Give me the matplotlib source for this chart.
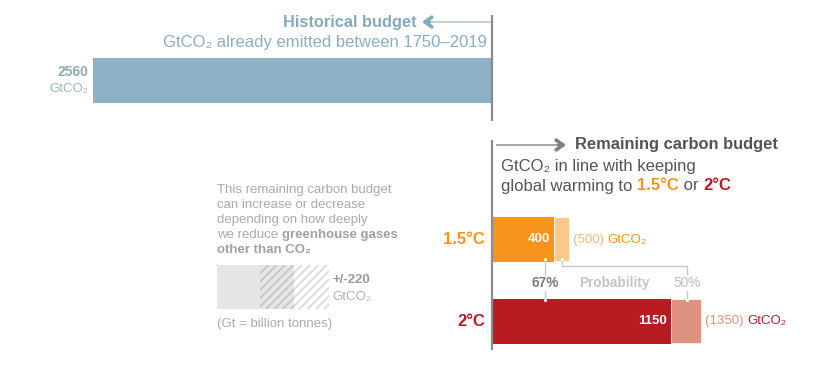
import numpy as np
import matplotlib
matplotlib.use("Agg")
from matplotlib import pyplot as plt

plt.rcParams['font.family'] = ['Liberation Sans', 'DejaVu Sans']
plt.rcParams['hatch.linewidth'] = 1.2

# values in GtCO2
historical = 2560
budget_67 = [400, 1150]      # 67% probability, 1.5°C and 2°C
budget_50 = [500, 1350]      # 50% probability
labels = ['1.5°C', '2°C']
nonco2_range = 220
base_col = ['#F7941D', '#B81C22']
light_col = ['#FDC88C', '#DC9480']
text_light = ['#F9B577', '#E0907C']

W, H = 830, 365
scale = 399 / historical          # px per GtCO2
x0 = 492                         # zero line in pixels


def px(x):
    return (x - x0) / scale


fig = plt.figure(figsize=(W / 100, H / 100), dpi=100)
ax = fig.add_axes([0, 0, 1, 1])
ax.set_xlim(px(0), px(W))
ax.set_ylim(H, 0)
ax.axis('off')

blue = '#8DB1C5'
blue_txt = '#8AADC2'
grey_txt = '#AAAAAA'

# historical bar (to the left of zero)
ax.barh(80.5, -historical, height=45, color=blue)
ax.text(px(88), 72, str(historical), ha='right', va='center', fontsize=10,
        fontweight='bold', color='#8FA9BA')
ax.text(px(88), 89, 'GtCO₂', ha='right', va='center', fontsize=9.5, color='#9DB6C6')

ax.text(px(416), 22, 'Historical budget', ha='right', va='center', fontsize=11.8,
        fontweight='bold', color='#86A9BE')
ax.text(px(487), 43, 'GtCO₂ already emitted between 1750–2019', ha='right',
        va='center', fontsize=12, color=blue_txt)
ax.plot([px(428), px(490)], [22, 22], color='#B7CDD9', lw=1.3)
ax.annotate('', xy=(px(419), 22), xytext=(px(432), 22),
            arrowprops=dict(arrowstyle='->, head_length=0.5, head_width=0.35',
                            color='#86A9BE', lw=2.6))

# zero lines
ax.plot([0, 0], [15, 121], color='#8C8C8C', lw=1.6, solid_capstyle='butt')
ax.plot([0, 0], [140, 350], color='#8C8C8C', lw=1.6, solid_capstyle='butt')

# remaining budget header
ax.plot([px(497), px(560)], [145, 145], color='#A0A0A0', lw=1.3)
ax.annotate('', xy=(px(569), 145), xytext=(px(556), 145),
            arrowprops=dict(arrowstyle='->, head_length=0.5, head_width=0.35',
                            color='#7F7F7F', lw=2.6))
ax.text(px(575), 145, 'Remaining carbon budget', ha='left', va='center',
        fontsize=11.9, fontweight='bold', color='#555555')
ax.text(px(501), 166, 'GtCO₂ in line with keeping', ha='left', va='center',
        fontsize=12, color='#555555')
t = ax.text(px(501), 186, 'global warming to ', ha='left', va='center',
            fontsize=12, color='#555555')
t = ax.annotate('1.5°C', xy=(1, 0), xycoords=t, va='bottom', ha='left',
                fontsize=12, fontweight='bold', color=base_col[0])
t = ax.annotate(' or ', xy=(1, 0), xycoords=t, va='bottom', ha='left',
                fontsize=12, color='#555555')
ax.annotate('2°C', xy=(1, 0), xycoords=t, va='bottom', ha='left',
            fontsize=12, fontweight='bold', color=base_col[1])

# remaining budget bars
ys = [239.5, 321]
for i in range(2):
    ax.barh(ys[i], budget_50[i] - budget_67[i], left=budget_67[i], height=45,
            color=light_col[i], edgecolor='white', linewidth=1.2)
    ax.barh(ys[i], budget_67[i], height=45, color=base_col[i])
    ax.text(budget_67[i] - 4 / scale, ys[i], str(budget_67[i]),
            ha='right', va='center', fontsize=9.5, fontweight='bold', color='white')
    ax.text(px(485), ys[i], labels[i], ha='right', va='center', fontsize=12,
            fontweight='bold', color=base_col[i])
    t = ax.text(budget_50[i] + 3 / scale, ys[i], '(%d) ' % budget_50[i],
                ha='left', va='center', fontsize=9.5, color=text_light[i])
    ax.annotate('GtCO₂', xy=(1, 0), xycoords=t, va='bottom', ha='left',
                fontsize=9.5, color=base_col[i])

# probability connectors
line_c = '#C8C8C8'
p67 = 340
p50 = [(budget_67[0] + budget_50[0]) / 2, (budget_67[1] + budget_50[1]) / 2]
ax.plot([p67, p67], [259, 275], color=line_c, lw=1)
ax.plot([p67, p67], [291, 299], color=line_c, lw=1)
ax.plot([p50[0], p50[0], p50[1], p50[1]], [259, 265.5, 265.5, 274],
        color=line_c, lw=1)
ax.plot([p50[1], p50[1]], [291, 299], color=line_c, lw=1)
ax.scatter([p67, p50[0], p67, p50[1]], [259, 259, 300, 300], s=5,
           color='white', zorder=5, lw=0)
ax.text(p67, 283, '67%', ha='center', va='center', fontsize=9.8,
        fontweight='bold', color='#7A7A7A')
ax.text(px(614), 283, 'Probability', ha='center', va='center', fontsize=9.8,
        fontweight='bold', color='#C4C4C4')
ax.text(p50[1], 283, '50%', ha='center', va='center', fontsize=9.8,
        color='#BDBDBD')

# note on non-CO2 gases
note_y = [190, 205, 220, 235]
note_lines = ['This remaining carbon budget', 'can increase or decrease',
              'depending on how deeply', 'we reduce ']
for y, s in zip(note_y, note_lines):
    tt = ax.text(px(217), y, s, ha='left', va='center', fontsize=9.5, color=grey_txt)
ax.annotate('greenhouse gases', xy=(1, 0), xycoords=tt, va='bottom', ha='left',
            fontsize=9.5, fontweight='bold', color='#A0A0A0')
ax.text(px(217), 250, 'other than CO₂', ha='left', va='center', fontsize=9.5,
        fontweight='bold', color='#A0A0A0')

box_left = px(217)
base_w = px(260) - px(217)
ax.barh(287, base_w, left=box_left, height=44, color='#E6E6E6', lw=0)
ax.barh(287, nonco2_range, left=box_left + base_w, height=44, color='#E6E6E6',
        edgecolor='#C4C4C4', hatch='////', lw=0)
ax.barh(287, nonco2_range, left=box_left + base_w + nonco2_range, height=44,
        color='white', edgecolor='#D8D8D8', hatch='////', lw=0)
ax.text(px(332), 280, '+/-%d' % nonco2_range, ha='left', va='center', fontsize=9.5,
        fontweight='bold', color='#999999')
ax.text(px(332), 297, 'GtCO₂', ha='left', va='center', fontsize=9.5, color='#B0B0B0')
ax.text(px(217), 324, '(Gt = billion tonnes)', ha='left', va='center',
        fontsize=9.5, color=grey_txt)

fig.savefig('out.png', dpi=100)
